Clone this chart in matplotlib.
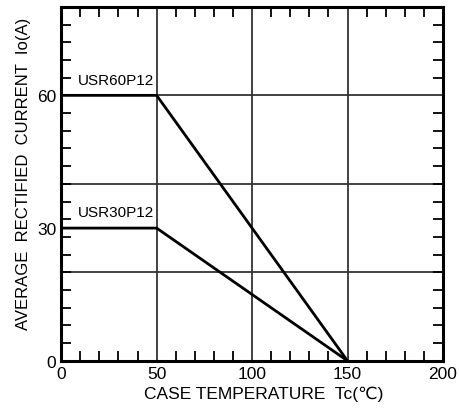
import matplotlib
matplotlib.use("Agg")
import matplotlib.pyplot as plt
from matplotlib.ticker import MultipleLocator, FixedLocator

plt.rcParams['font.family'] = ['Liberation Sans', 'DejaVu Sans']

# derating curves
temp_60 = [0, 50, 150]
curr_60 = [60, 60, 0]
temp_30 = [0, 50, 150]
curr_30 = [30, 30, 0]
labels = ["USR60P12", "USR30P12"]

xticks = [0, 50, 100, 150, 200]
yticks = [0, 30, 60]
xgrid = [50, 100, 150]
ygrid = [20, 40, 60]

fig = plt.figure(figsize=(4.6, 4.14), dpi=100)
ax = fig.add_axes([0.133, 0.126, 0.83, 0.855])

for g in xgrid:
    ax.axvline(g, color='#333333', lw=1.3, zorder=1)
for g in ygrid:
    ax.axhline(g, color='#333333', lw=1.3, zorder=1)

ax.plot(temp_60, curr_60, color='black', lw=2, zorder=3)
ax.plot(temp_30, curr_30, color='black', lw=2, zorder=3)

ax.text(9, 62, labels[0], fontsize=11, va='bottom')
ax.text(9, 32, labels[1], fontsize=11, va='bottom')

ax.set_xlim(0, 200)
ax.set_ylim(0, 80)
ax.xaxis.set_major_locator(FixedLocator(xticks))
ax.yaxis.set_major_locator(FixedLocator(yticks))
ax.xaxis.set_minor_locator(MultipleLocator(10))
ax.yaxis.set_minor_locator(MultipleLocator(4))
ax.tick_params(which='both', direction='in', top=True, right=True, width=1.3)
ax.tick_params(which='major', length=0, labelsize=12.5)
ax.tick_params(which='minor', length=7)

for s in ax.spines.values():
    s.set_linewidth(2.2)

ax.set_xlabel("CASE TEMPERATURE  Tc(\u2103)", fontsize=12.5)
ax.set_ylabel("AVERAGE  RECTIFIED  CURRENT  Io(A)", fontsize=12)
ax.xaxis.set_label_coords(0.53, -0.07)
ax.yaxis.set_label_coords(-0.08, 0.53)

fig.savefig("out.png", dpi=100)
